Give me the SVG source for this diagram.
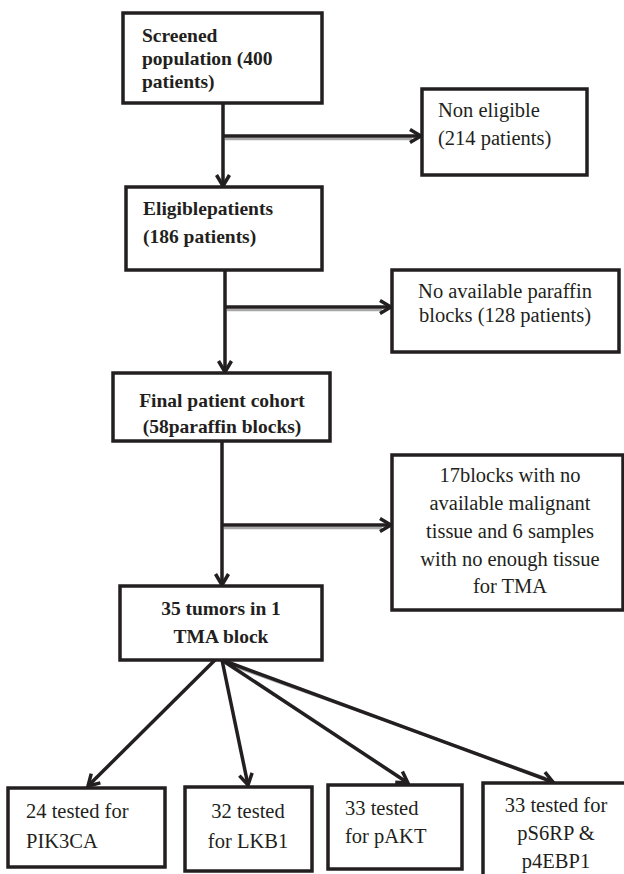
<svg xmlns="http://www.w3.org/2000/svg" width="624" height="874" viewBox="0 0 624 874" font-family="Liberation Serif, Times New Roman, Times, serif">
<defs>
<marker id="ah" viewBox="0 0 16 16" refX="14" refY="8" markerWidth="16" markerHeight="16" markerUnits="userSpaceOnUse" orient="auto">
<path d="M3,1.5 L14,8 L3,14.5" fill="none" stroke="#231f20" stroke-width="3.5" stroke-linejoin="miter"/>
</marker>
<style>
.box{fill:#fff;stroke:#231f20;stroke-width:3.5}
.ln{fill:none;stroke:#231f20;stroke-width:3.5}
.sh{fill:none;stroke:#a8a8a8;stroke-width:2.5}
text{fill:#231f20}
.b{font-weight:bold;font-size:19.5px}
.r{font-size:20.5px}
.c{text-anchor:middle}
</style>
</defs>
<rect width="624" height="874" fill="#fff"/>
<g id="connectors">
<line class="sh" x1="225" y1="139" x2="412" y2="139"/>
<line class="sh" x1="227" y1="310" x2="382" y2="310"/>
<line class="sh" x1="224" y1="528" x2="382" y2="528"/>
<line class="sh" x1="225" y1="663" x2="400" y2="777"/>
<line class="sh" x1="225" y1="663" x2="545" y2="778"/>
<line class="ln" x1="223" y1="103" x2="223" y2="186" marker-end="url(#ah)"/>
<line class="ln" x1="223" y1="136" x2="421" y2="136" marker-end="url(#ah)"/>
<line class="ln" x1="225" y1="270" x2="225" y2="372" marker-end="url(#ah)"/>
<line class="ln" x1="225" y1="307" x2="391" y2="307" marker-end="url(#ah)"/>
<line class="ln" x1="222" y1="441" x2="222" y2="585" marker-end="url(#ah)"/>
<line class="ln" x1="222" y1="525" x2="391" y2="525" marker-end="url(#ah)"/>
<line class="ln" x1="215" y1="660" x2="88" y2="786" marker-end="url(#ah)"/>
<line class="ln" x1="222" y1="660" x2="248" y2="785" marker-end="url(#ah)"/>
<line class="ln" x1="222" y1="660" x2="408" y2="783" marker-end="url(#ah)"/>
<line class="ln" x1="222" y1="660" x2="553" y2="782" marker-end="url(#ah)"/>
</g>
<g id="screened">
<rect class="box" x="123" y="13" width="199" height="90"/>
<text class="b" x="142" y="42" font-family="Liberation Serif, serif">Screened</text>
<text class="b" x="142" y="65">population (400</text>
<text class="b" x="142" y="88">patients)</text>
</g>
<g id="noneligible">
<rect class="box" x="422" y="89" width="165" height="86"/>
<text class="r" x="438" y="117">Non eligible</text>
<text class="r" x="438" y="145">(214 patients)</text>
</g>
<g id="eligible">
<rect class="box" x="126" y="187" width="196" height="83"/>
<text class="b" x="143" y="215">Eligiblepatients</text>
<text class="b" x="143" y="243">(186 patients)</text>
</g>
<g id="noparaffin">
<rect class="box" x="392" y="270" width="227" height="82"/>
<text class="r c" x="505" y="298">No available paraffin</text>
<text class="r c" x="505" y="322">blocks (128 patients)</text>
</g>
<g id="cohort">
<rect class="box" x="113" y="373" width="217" height="68"/>
<text class="b c" x="222" y="407">Final patient cohort</text>
<text class="b c" x="222" y="433">(58paraffin blocks)</text>
</g>
<g id="excluded">
<rect class="box" x="392" y="455" width="231" height="155"/>
<text class="r c" x="510" y="482">17blocks with no</text>
<text class="r c" x="510" y="510">available malignant</text>
<text class="r c" x="510" y="538">tissue and 6 samples</text>
<text class="r c" x="510" y="566">with no enough tissue</text>
<text class="r c" x="510" y="593">for TMA</text>
</g>
<g id="tma">
<rect class="box" x="120" y="586" width="202" height="74"/>
<text class="b c" x="221" y="615">35 tumors in 1</text>
<text class="b c" x="221" y="643">TMA block</text>
</g>
<g id="pik3ca">
<rect class="box" x="8" y="788" width="157" height="79"/>
<text class="r" x="26" y="818">24 tested for</text>
<text class="r" x="26" y="848">PIK3CA</text>
</g>
<g id="lkb1">
<rect class="box" x="185" y="787" width="127" height="84"/>
<text class="r c" x="248" y="818">32 tested</text>
<text class="r c" x="248" y="848">for LKB1</text>
</g>
<g id="pakt">
<rect class="box" x="328" y="785" width="134" height="84"/>
<text class="r" x="345" y="815">33 tested</text>
<text class="r" x="345" y="843">for pAKT</text>
</g>
<g id="ps6rp">
<rect class="box" x="483" y="783" width="150" height="110"/>
<text class="r c" x="556" y="812">33 tested for</text>
<text class="r c" x="556" y="840">pS6RP &amp;</text>
<text class="r c" x="556" y="868">p4EBP1</text>
</g>
</svg>
